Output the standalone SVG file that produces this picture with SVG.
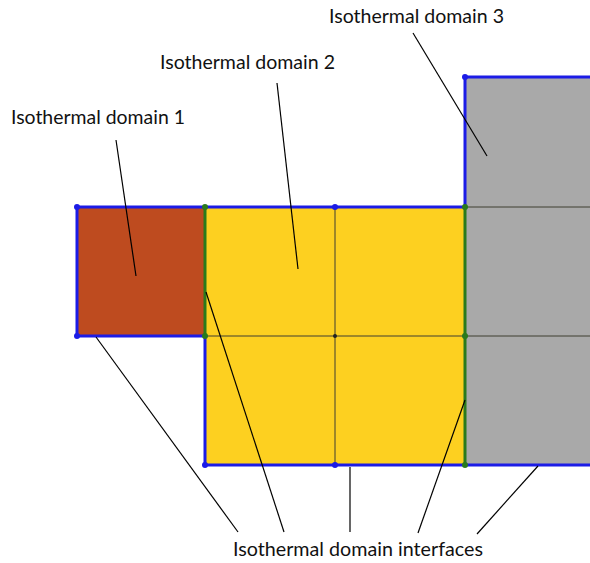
<svg xmlns="http://www.w3.org/2000/svg" width="590" height="563" viewBox="0 0 590 563">
<style>
.lbl{font-family:"Gill Sans","Lato","Liberation Sans",sans-serif;font-size:19px;fill:#111}
.blue{stroke:#1c1ce6;stroke-width:3;fill:none;stroke-linecap:square}
.green{stroke:#2a7a1c;stroke-width:3;fill:none}
.grid{stroke:#3e3e30;stroke-width:1;fill:none}
.lead{stroke:#000;stroke-width:1.2;fill:none}
.bd{fill:#1c1ce6}
.gd{fill:#2a7a1c}
</style>
<rect width="590" height="563" fill="#fff"/>
<g id="domain3">
<rect x="465" y="77" width="125" height="388" fill="#a9a9a9"/>
</g>
<g id="domain2">
<rect x="205" y="207" width="260" height="258" fill="#fdd020"/>
</g>
<g id="domain1">
<rect x="77" y="207" width="128" height="129" fill="#be4b1f"/>
</g>
<g id="grid">
<line class="grid" x1="335" y1="207" x2="335" y2="465"/>
<line class="grid" x1="205" y1="336" x2="590" y2="336"/>
<line class="grid" x1="465" y1="207" x2="590" y2="207"/>
</g>
<g id="boundaries">
<path class="blue" d="M205,207 H77 V336 H205"/>
<path class="blue" d="M205,207 H465"/>
<path class="blue" d="M205,336 V465 H465"/>
<path class="blue" d="M465,207 V77 H590"/>
<path class="blue" d="M465,465 H590"/>
<line class="green" x1="205" y1="207" x2="205" y2="336"/>
<line class="green" x1="465" y1="207" x2="465" y2="465"/>
<circle class="bd" cx="77" cy="207" r="3"/>
<circle class="bd" cx="77" cy="336" r="3"/>
<circle class="bd" cx="335" cy="207" r="3"/>
<circle class="bd" cx="335" cy="465" r="3"/>
<circle class="bd" cx="205" cy="465" r="3"/>
<circle class="bd" cx="465" cy="77" r="3"/>
<circle class="gd" cx="205" cy="207" r="3"/>
<circle class="gd" cx="205" cy="336" r="3"/>
<circle class="gd" cx="465" cy="207" r="3"/>
<circle class="gd" cx="465" cy="336" r="3"/>
<circle class="gd" cx="465" cy="465" r="3"/>
<circle fill="#222" cx="335" cy="336" r="2"/>
</g>
<g id="connectors">
<line class="lead" x1="116" y1="140" x2="136" y2="276"/>
<line class="lead" x1="277" y1="83" x2="298" y2="269"/>
<line class="lead" x1="413" y1="33" x2="487" y2="156"/>
<line class="lead" x1="96" y1="337" x2="238" y2="532"/>
<line class="lead" x1="206" y1="292" x2="284" y2="532"/>
<line class="lead" x1="350" y1="467" x2="350" y2="532" stroke-width="2.5"/>
<line class="lead" x1="465" y1="400" x2="418" y2="533"/>
<line class="lead" x1="538" y1="466" x2="477" y2="534"/>
</g>
<g id="labels">
<text class="lbl" x="11" y="124" textLength="174" lengthAdjust="spacingAndGlyphs">Isothermal domain 1</text>
<text class="lbl" x="160" y="69" textLength="175" lengthAdjust="spacingAndGlyphs">Isothermal domain 2</text>
<text class="lbl" x="329" y="23" textLength="175" lengthAdjust="spacingAndGlyphs">Isothermal domain 3</text>
<text class="lbl" x="233" y="556" textLength="250" lengthAdjust="spacingAndGlyphs">Isothermal domain interfaces</text>
</g>
</svg>
